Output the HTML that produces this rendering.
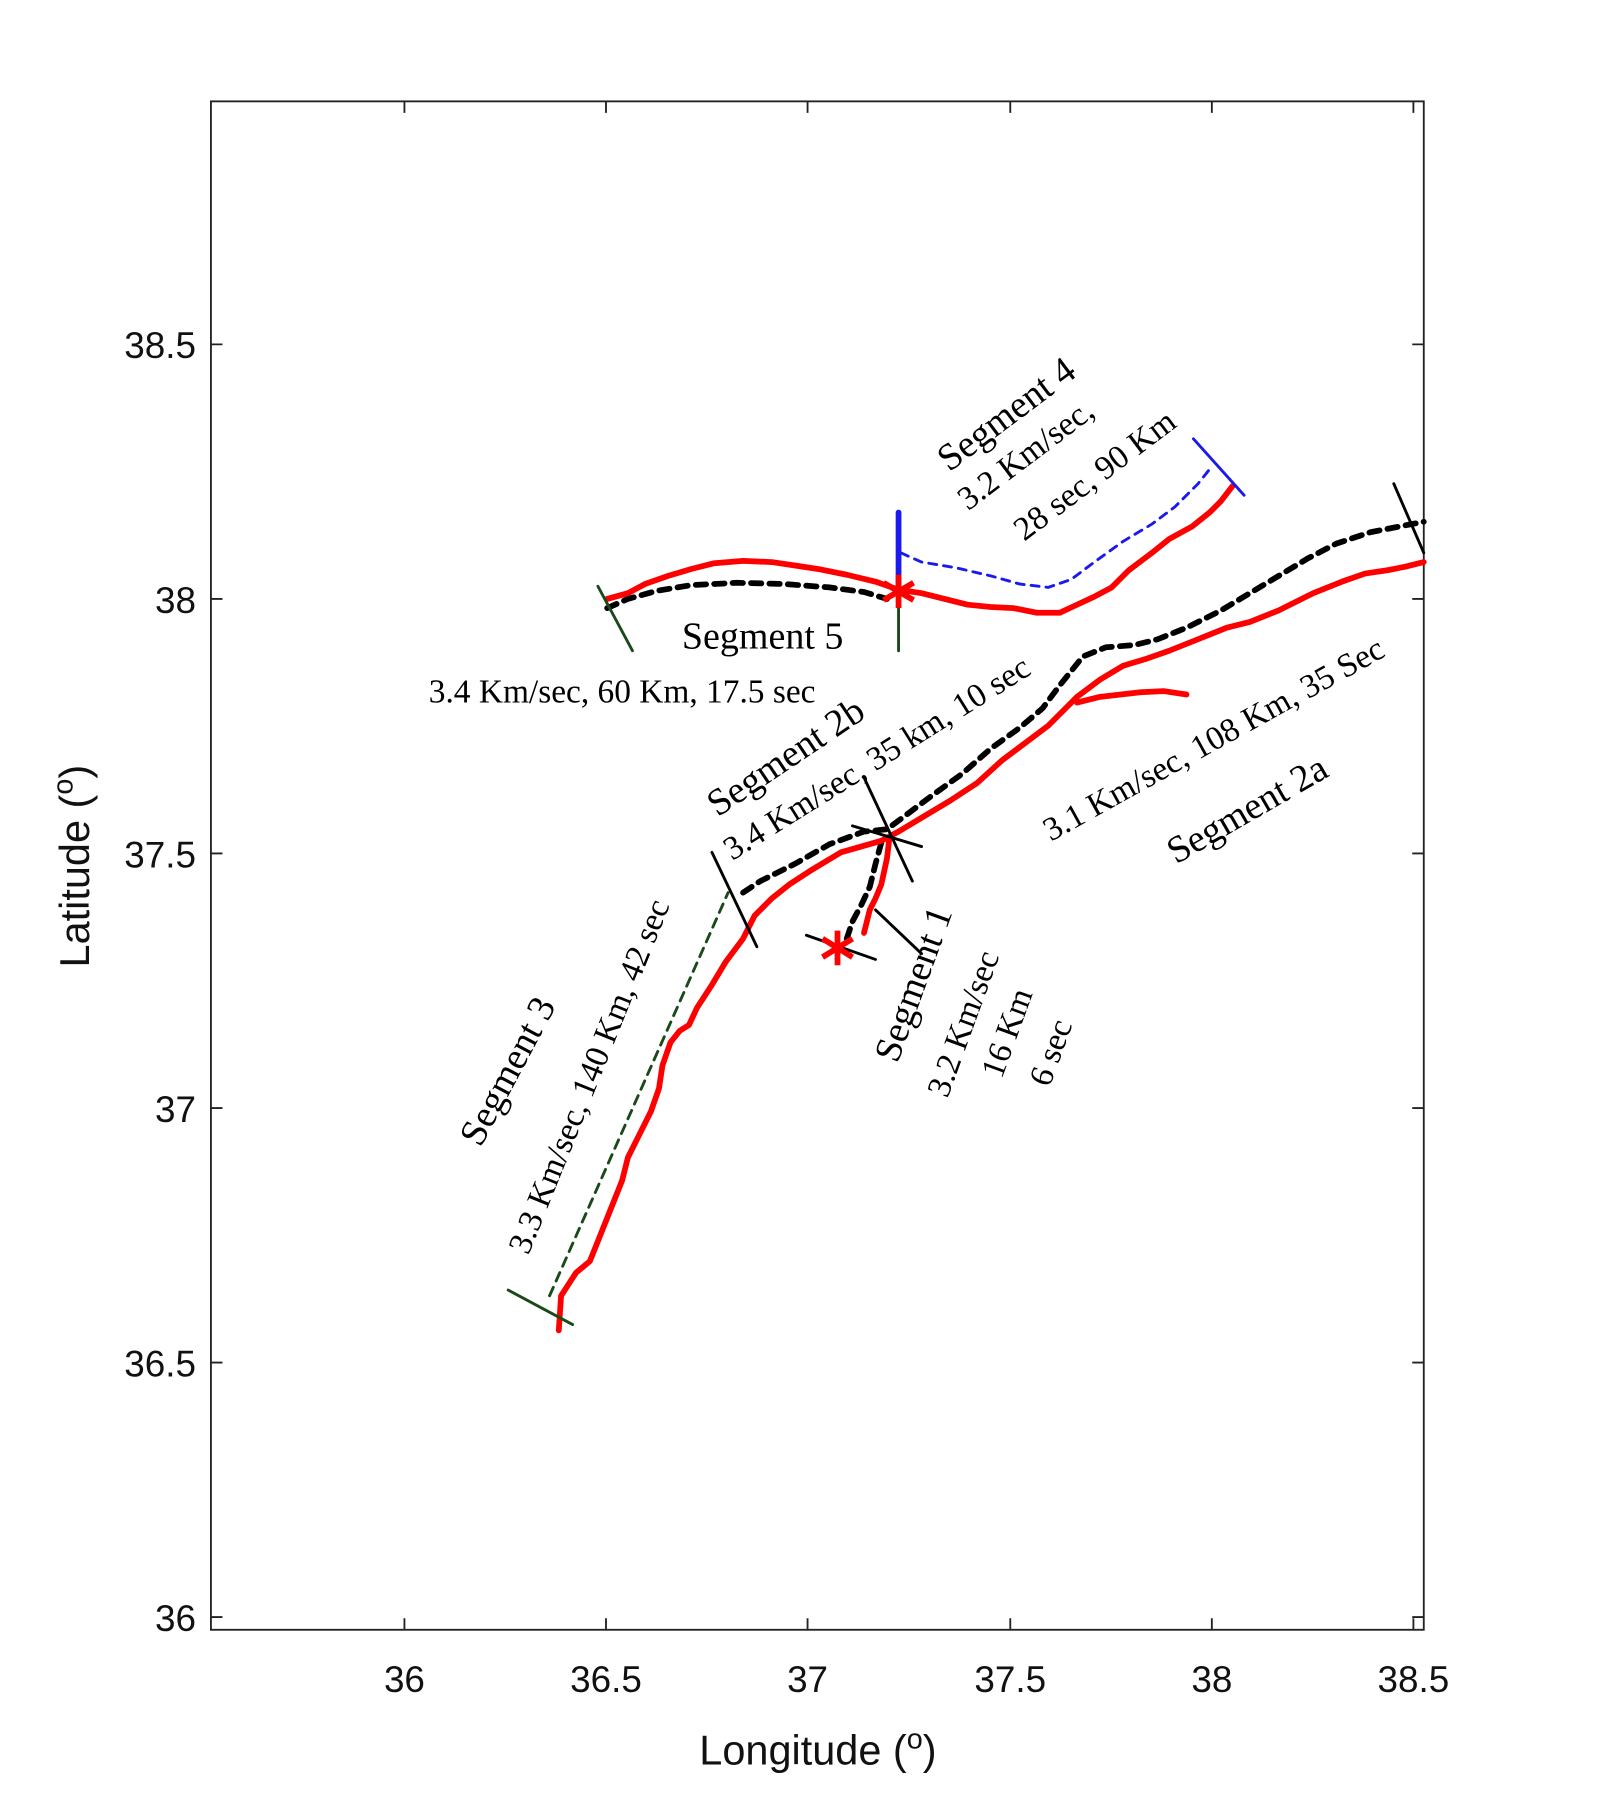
<!DOCTYPE html>
<html><head><style>html,body{margin:0;padding:0;background:#fff}svg{display:block}</style></head><body>
<svg width="1599" height="1806" viewBox="0 0 1388 1568" xmlns="http://www.w3.org/2000/svg">
<rect width="1388" height="1568" fill="#fff"/>
<g stroke="#222" stroke-width="1.6" fill="none">
<rect x="183" y="88" width="1053" height="1327"/>
<path d="M351,1415v-10M526,1415v-10M701,1415v-10M877,1415v-10M1052,1415v-10M1227,1415v-10M351,88v10M526,88v10M701,88v10M877,88v10M1052,88v10M1227,88v10"/>
<path d="M183,299h10M183,520h10M183,741h10M183,962h10M183,1183h10M183,1404h10M1236,299h-10M1236,520h-10M1236,741h-10M1236,962h-10M1236,1183h-10M1236,1404h-10"/>
</g>
<g font-family="Liberation Sans, sans-serif" font-size="32" fill="#111" text-anchor="middle">
<text x="351" y="1469">36</text><text x="526" y="1469">36.5</text><text x="701" y="1469">37</text><text x="877" y="1469">37.5</text><text x="1052" y="1469">38</text><text x="1227" y="1469">38.5</text>
<g text-anchor="end"><text x="170" y="311">38.5</text><text x="170" y="532">38</text><text x="170" y="753">37.5</text><text x="170" y="974">37</text><text x="170" y="1195">36.5</text><text x="170" y="1416">36</text></g>
<text x="710" y="1532" font-size="36">Longitude (<tspan font-size="25" dy="-14">o</tspan><tspan dy="14">)</tspan></text>
<text transform="translate(77,752) rotate(-90)" font-size="36">Latitude (<tspan font-size="25" dy="-14">o</tspan><tspan dy="14">)</tspan></text>
</g>
<g fill="none" stroke-linejoin="round" stroke-linecap="round">
<path stroke="#1a4a1a" stroke-width="2.5" stroke-dasharray="8,6" d="M477,1125L632,775"/>
<path stroke="#000" stroke-width="5" stroke-dasharray="9,7" d="M527,528L545,520L570,513L600,508L640,506L680,507L720,510L750,514L770,520"/>
<path stroke="#000" stroke-width="5" stroke-dasharray="9,7" d="M645,775L660,765L690,750L720,733L750,722L770,720L790,705L810,690L835,672L860,650L885,632L905,615L920,595L940,570L960,562L985,560L1005,555L1030,545L1060,530L1085,515L1110,500L1135,485L1160,472L1190,462L1236,453"/>
<path stroke="#000" stroke-width="5" stroke-dasharray="9,7" d="M735,815L740,800L748,785L755,770L760,750L766,728"/>
<path stroke="#1a1aee" stroke-width="2.5" stroke-dasharray="7,6" d="M782,480L800,488L830,493L860,500L885,507L910,510L930,503L950,488L975,470L1000,455L1020,440L1040,420L1052,405"/>
<g stroke="#f00" stroke-width="5">
<path d="M485,1155L487,1125L500,1105L512,1095L520,1075L530,1050L540,1025L545,1005L555,985L565,965L572,945L575,925L582,905L590,895L598,890L605,875L618,855L630,835L645,815L655,795L670,780L685,768L705,755L730,740L765,730L780,722L800,710L825,695L848,680L870,660L890,645L910,630L935,605L955,590L975,578L995,572L1015,565L1040,555L1065,545L1085,540L1110,530L1140,515L1165,505L1185,498L1205,495L1220,492L1236,488"/>
<path d="M935,610L955,605L990,601L1010,600L1030,603"/>
<path d="M750,810L755,790L760,780L765,768L770,745L772,728"/>
<path d="M527,520L545,515L560,507L580,500L600,494L620,489L645,487L670,488L690,491L710,494L735,499L760,505L780,512L800,515L820,520L840,525L860,527L880,528L900,532L920,532L935,525L950,518L965,510L980,495L1000,480L1015,468L1035,457L1050,445L1060,435L1070,422"/>
</g>
<path stroke="#1a1aee" stroke-width="5" d="M780,445V515"/>
<path stroke="#1a1aee" stroke-width="2.5" d="M1036,381L1080,430"/>
<g stroke="#1a4a1a" stroke-width="2.5"><path d="M519,509L549,565M780,515V565M441,1120L497,1150"/></g>
<g stroke="#000" stroke-width="2.5"><path d="M1210,420L1236,480M750,675L792,765M740,717L800,735M618,740L657,822M700,812L760,833M760,790L800,828"/></g>
</g>
<g stroke="#f00" stroke-width="5" stroke-linecap="butt">
<path d="M727,808V838M714,815L740,831M714,831L740,815"/>
<path d="M780,499V528M767,506L793,521M767,521L793,506"/>
</g>
<g font-family="Liberation Serif, serif" fill="#000" text-anchor="middle" font-size="29">
<text transform="translate(880,368) rotate(-37)" font-size="33">Segment 4</text>
<text transform="translate(896,402) rotate(-37)">3.2 Km/sec,</text>
<text transform="translate(956,420) rotate(-37)">28 sec, 90 Km</text>
<text x="662" y="563" font-size="33">Segment 5</text>
<text x="540" y="610">3.4 Km/sec, 60 Km, 17.5 sec</text>
<text transform="translate(688,666) rotate(-34)" font-size="33">Segment 2b</text>
<text transform="translate(766,666) rotate(-32)">3.4 Km/sec, 35 km, 10 sec</text>
<text transform="translate(1058,650) rotate(-29)">3.1 Km/sec, 108 Km,  35 Sec</text>
<text transform="translate(1088,712) rotate(-30)" font-size="33">Segment 2a</text>
<text transform="translate(450,935) rotate(-62)" font-size="33">Segment 3</text>
<text transform="translate(520,938) rotate(-68)">3.3 Km/sec, 140 Km, 42 sec</text>
<text transform="translate(803,858) rotate(-70)" font-size="33">Segment 1</text>
<text transform="translate(845,892) rotate(-70)">3.2 Km/sec</text>
<text transform="translate(883,900) rotate(-70)">16 Km</text>
<text transform="translate(921,917) rotate(-70)">6 sec</text>
</g>
</svg>
</body></html>
